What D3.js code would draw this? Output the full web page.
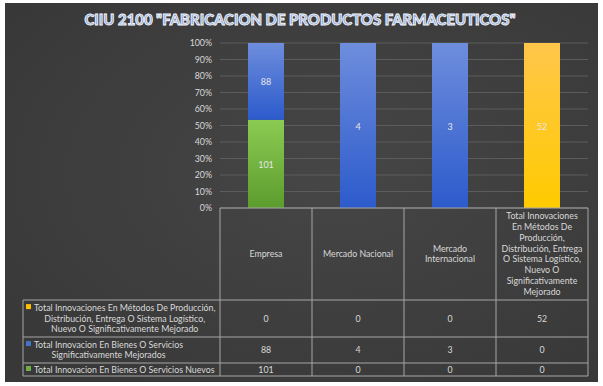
<!DOCTYPE html>
<html>
<head>
<meta charset="utf-8">
<script src="https://cdn.jsdelivr.net/npm/d3@7"></script>
<style>
  html, body { margin: 0; padding: 0; background: #fff; }
  svg { display: block; font-family: Lato, "Open Sans", sans-serif; }
</style>
</head>
<body>
<svg id="chart" width="603" height="386"></svg>
<script>
// Data
const categories = ["Empresa", "Mercado Nacional", "Mercado Internacional", "Total Innovaciones En Métodos De Producción"];
const categoryLines = [
  ["Empresa"],
  ["Mercado Nacional"],
  ["Mercado", "Internacional"],
  ["Total Innovaciones", "En Métodos De", "Producción,", "Distribución, Entrega", "O Sistema Logístico,", "Nuevo O", "Significativamente", "Mejorado"]
];
const seriesNames = [
  "Total Innovacion En Bienes O Servicios Nuevos",
  "Total Innovacion En Bienes O Servicios Significativamente Mejorados",
  "Total Innovaciones En Métodos De Producción, Distribución, Entrega O Sistema Logístico, Nuevo O Significativamente Mejorado"
];
const seriesLegendLines = [
  ["Total Innovacion En Bienes O Servicios Nuevos"],
  ["Total Innovacion En Bienes O Servicios", "Significativamente Mejorados"],
  ["Total Innovaciones En Métodos De Producción,", "Distribución, Entrega O Sistema Logístico,", "Nuevo O Significativamente Mejorado"]
];
const nuevos = [101, 0, 0, 0];
const mejorados = [88, 4, 3, 0];
const metodos = [0, 0, 0, 52];
const yTicks = [0, 0.1, 0.2, 0.3, 0.4, 0.5, 0.6, 0.7, 0.8, 0.9, 1];
const title = 'CIIU 2100 "FABRICACION DE PRODUCTOS FARMACEUTICOS"';

const seriesValues = [nuevos, mejorados, metodos];
const seriesColors = [["#8ccb52", "#5c9c2e"], ["#6e8ddc", "#2c5bcc"], ["#ffc64a", "#ffcb00"]];
const seriesKeyColors = ["#70ad47", "#4472c4", "#ffc000"];

const svg = d3.select("#chart");
const textColor = "#d9d9d9";
const lineColor = "#a6a6a6";
const fs = 8.8;

// Background
const defs = svg.append("defs");
const bg = defs.append("radialGradient").attr("id", "bg").attr("cx", "55%").attr("cy", "45%").attr("r", "70%");
bg.append("stop").attr("offset", "0%").attr("stop-color", "#464646");
bg.append("stop").attr("offset", "100%").attr("stop-color", "#383838");
seriesColors.forEach((c, i) => {
  const g = defs.append("linearGradient").attr("id", "grad" + i).attr("x1", 0).attr("y1", 0).attr("x2", 0).attr("y2", 1);
  g.append("stop").attr("offset", "0%").attr("stop-color", c[0]);
  g.append("stop").attr("offset", "100%").attr("stop-color", c[1]);
});

svg.append("rect").attr("x", 5).attr("y", 3).attr("width", 593).attr("height", 379).attr("fill", "url(#bg)");

// Title
svg.append("text")
  .attr("x", 300).attr("y", 25)
  .attr("text-anchor", "middle")
  .attr("font-family", "Lato, sans-serif")
  .attr("font-weight", 900)
  .attr("font-size", 14.9)
  .attr("fill", "#8fa8d8")
  .attr("stroke", "#f4f6fb")
  .attr("stroke-width", 0.9)
  .text(title);

// Scales
const x = d3.scaleBand().domain(categories).range([220, 588]).padding(0);
const y = d3.scaleLinear().domain([0, 1]).range([208, 43]);
const barW = 36;

// Grid lines and y labels
svg.append("g").selectAll("line").data(yTicks).join("line")
  .attr("x1", 220).attr("x2", 588)
  .attr("y1", d => y(d)).attr("y2", d => y(d))
  .attr("stroke", "#5c5c5c").attr("stroke-width", 1);

svg.append("g").selectAll("text").data(yTicks).join("text")
  .attr("x", 212).attr("y", d => y(d) + 3)
  .attr("text-anchor", "end")
  .attr("font-size", fs)
  .attr("fill", textColor)
  .text(d => d3.format(".0%")(d));

// Stacked percent bars
const totals = categories.map((c, i) => d3.sum(seriesValues, s => s[i]));
const rows = categories.map((c, i) => {
  const o = { cat: c };
  seriesValues.forEach((s, k) => { o["s" + k] = s[i] / totals[i]; });
  return o;
});
const stack = d3.stack().keys(["s0", "s1", "s2"])(rows);

stack.forEach((layer, k) => {
  const g = svg.append("g");
  g.selectAll("rect").data(layer).join("rect")
    .attr("x", d => x(d.data.cat) + x.bandwidth() / 2 - barW / 2)
    .attr("y", d => y(d[1]))
    .attr("width", barW)
    .attr("height", d => y(d[0]) - y(d[1]))
    .attr("fill", "url(#grad" + k + ")");
  g.selectAll("text").data(layer.filter((d, i) => seriesValues[k][i] > 0)).join("text")
    .attr("x", d => x(d.data.cat) + x.bandwidth() / 2)
    .attr("y", d => (y(d[0]) + y(d[1])) / 2 + 4)
    .attr("text-anchor", "middle")
    .attr("font-size", 9)
    .attr("fill", "#e6e6e6")
    .text(d => seriesValues[k][categories.indexOf(d.data.cat)]);
});

// Data table
const legendX0 = 23;
const rowY = [300, 337, 363, 376];
const tbl = svg.append("g").attr("stroke", lineColor).attr("stroke-width", 1).attr("fill", "none");
tbl.append("line").attr("x1", 220).attr("x2", 588).attr("y1", 208).attr("y2", 208);
x.domain().forEach(c => {
  tbl.append("line").attr("x1", x(c)).attr("x2", x(c)).attr("y1", 208).attr("y2", rowY[3]);
});
tbl.append("line").attr("x1", 588).attr("x2", 588).attr("y1", 208).attr("y2", rowY[3]);
tbl.append("line").attr("x1", legendX0).attr("x2", legendX0).attr("y1", rowY[0]).attr("y2", rowY[3]);
rowY.forEach(ry => {
  tbl.append("line").attr("x1", legendX0).attr("x2", 588).attr("y1", ry).attr("y2", ry);
});

// header text
const lh = 10.9;
categoryLines.forEach((lines, i) => {
  const cx = x(categories[i]) + x.bandwidth() / 2;
  const cy = 254;
  const t = svg.append("text")
    .attr("text-anchor", "middle")
    .attr("font-size", fs)
    .attr("fill", textColor);
  lines.forEach((ln, j) => {
    t.append("tspan").attr("x", cx)
      .attr("y", cy + (j - (lines.length - 1) / 2) * lh + 3)
      .text(ln);
  });
});

// table rows: top to bottom = metodos, mejorados, nuevos
const tableOrder = [2, 1, 0];
const textLeft = 34;
tableOrder.forEach((k, r) => {
  const y0 = rowY[r], y1 = rowY[r + 1];
  const cy = (y0 + y1) / 2;
  const lines = seriesLegendLines[k];
  const texts = lines.map((ln, j) => svg.append("text")
    .attr("font-size", fs)
    .attr("fill", textColor)
    .attr("text-anchor", "middle")
    .attr("y", cy + (j - (lines.length - 1) / 2) * lh + 3)
    .text(ln));
  const maxW = d3.max(texts, t => t.node().getComputedTextLength());
  const lcx = textLeft + maxW / 2;
  texts.forEach(t => t.attr("x", lcx));
  const w0 = texts[0].node().getComputedTextLength();
  const ty0 = +texts[0].attr("y");
  svg.append("rect").attr("x", lcx - w0 / 2 - 8).attr("y", ty0 - 6.5).attr("width", 5).attr("height", 5)
    .attr("fill", seriesKeyColors[k]);
  seriesValues[k].forEach((v, i) => {
    svg.append("text")
      .attr("x", x(categories[i]) + x.bandwidth() / 2)
      .attr("y", cy + 3)
      .attr("text-anchor", "middle")
      .attr("font-size", fs)
      .attr("fill", textColor)
      .text(v);
  });
});
</script>
</body>
</html>
